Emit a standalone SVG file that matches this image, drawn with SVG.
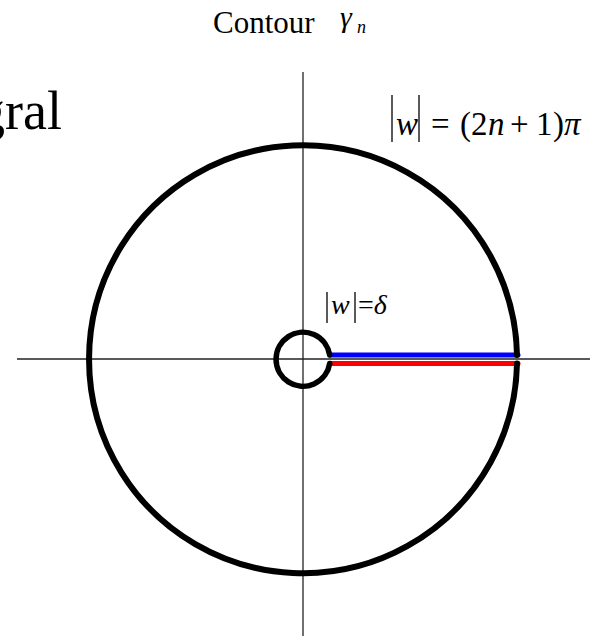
<svg xmlns="http://www.w3.org/2000/svg" width="604" height="644" viewBox="0 0 604 644">
<style>
.axis{stroke:#222;stroke-width:1.3;fill:none}
.contour{stroke:#000;stroke-width:6;fill:none;stroke-linecap:round}
.t{font-family:"Liberation Serif",serif;fill:#000}
.i{font-style:italic}
.bar{stroke:#000;stroke-width:1.3}
</style>
<rect width="604" height="644" fill="#fff"/>
<g id="axes">
<line class="axis" x1="17" y1="359" x2="590" y2="359"/>
<line class="axis" x1="303" y1="72" x2="303" y2="636"/>
</g>
<g id="connectors">
<line x1="330" y1="355" x2="518" y2="355" stroke="#0000ff" stroke-width="5" stroke-linecap="round"/>
<line x1="330" y1="363.5" x2="518" y2="363.5" stroke="#ff0000" stroke-width="5" stroke-linecap="round"/>
</g>
<g id="big-circle">
<path class="contour" d="M 517 355 A 214 214 0 1 0 517 363.5"/>
</g>
<g id="small-circle">
<path class="contour" style="stroke-width:5.5" d="M 329.7 355 A 27 27 0 1 0 329.7 363.5"/>
</g>
<g id="title">
<text class="t" x="213" y="33" font-size="31">Contour</text>
<text class="t i" x="340" y="27" font-size="30">γ</text>
<text class="t i" x="357" y="33" font-size="18">n</text>
</g>
<g id="gral">
<text class="t" x="62" y="129" font-size="54" text-anchor="end">gral</text>
</g>
<g id="label-big">
<line class="bar" x1="392" y1="95" x2="392" y2="142"/>
<text class="t i" x="396" y="135" font-size="33">w</text>
<line class="bar" x1="419" y1="95" x2="419" y2="142"/>
<text class="t" y="135" font-size="33"><tspan x="431">=</tspan><tspan x="460">(</tspan><tspan x="471">2</tspan><tspan x="488" class="i">n</tspan><tspan x="510">+</tspan><tspan x="536">1</tspan><tspan x="553">)</tspan><tspan x="564" class="i">π</tspan></text>
</g>
<g id="label-small">
<line class="bar" x1="327" y1="292" x2="327" y2="323"/>
<text class="t i" x="331" y="314" font-size="28">w</text>
<line class="bar" x1="355" y1="292" x2="355" y2="323"/>
<text class="t" x="358" y="314" font-size="28">=<tspan class="i">δ</tspan></text>
</g>
</svg>
